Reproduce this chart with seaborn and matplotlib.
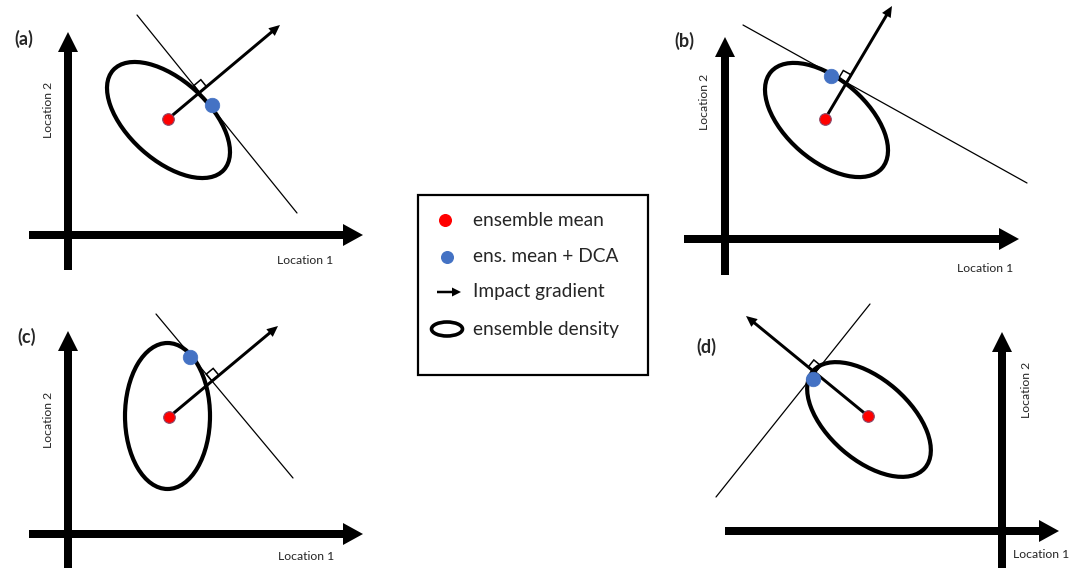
import numpy as np
import pandas as pd
import matplotlib
matplotlib.use("Agg")
import matplotlib.pyplot as plt
from matplotlib.patches import Ellipse, FancyArrow, Rectangle, Polygon
import seaborn as sns

# ---------------- data (pixel-space schematic geometry) ----------------
panel_labels = ["(a)", "(b)", "(c)", "(d)"]
label_x = [24, 684, 27, 706]
label_y = [39, 41, 337, 347]

# axes cross (origin, extents)
axis_x = [68, 725, 68, 1002]          # x position of vertical axis
axis_y = [235, 239, 534, 531]         # y position of horizontal axis
haxis_start = [29, 684, 29, 725]
haxis_end = [363, 1019, 363, 1059]
vaxis_bottom = [270, 275, 568, 568]
vaxis_top = [32, 37, 331, 332]
loc1_x = [305, 985, 306, 1041]
loc1_y = [260, 268, 557, 554]
loc2_x = [48, 705, 48, 1027]
loc2_y = [110, 102, 420, 390]

# ensemble density ellipses
ell_cx = [168.5, 826.5, 167.5, 869.0]
ell_cy = [120.0, 120.0, 416.0, 419.5]
ell_w = [149, 147, 85, 148]
ell_h = [80, 81, 146, 81]
ell_angle = [42, 41, 0, 41]

# ensemble mean (red) and ens. mean + DCA (blue)
mean_x = [168, 825, 169, 868]
mean_y = [119, 119, 417, 416]
dca_x = [212, 831, 190, 813]
dca_y = [105, 76, 357, 379]

# impact gradient arrow tips
grad_x = [280, 892, 278, 746]
grad_y = [25, 6, 326, 316]

# tangent lines
tan_x0 = [137, 743, 156, 870]
tan_y0 = [15, 25, 314, 304]
tan_x1 = [297, 1027, 293, 716]
tan_y1 = [213, 183, 478, 497]

legend_labels = ["ensemble mean", "ens. mean + DCA", "Impact gradient", "ensemble density"]
legend_rows = [220, 257, 292, 329]

# ---------------- figure ----------------
sns.set_style("white")
plt.rcParams["font.family"] = ["Lato", "DejaVu Sans"]

W, H = 1082, 570
fig = plt.figure(figsize=(W / 100, H / 100), dpi=100)
ax = fig.add_axes([0, 0, 1, 1])

RED = "#ff0000"
BLUE = "#4472c4"

for i in range(4):
    # axes arrows
    ax.add_patch(FancyArrow(haxis_start[i], axis_y[i], haxis_end[i] - haxis_start[i], 0,
                            width=8, head_width=22, head_length=20,
                            length_includes_head=True, color="black", lw=0))
    ax.add_patch(FancyArrow(axis_x[i], vaxis_bottom[i], 0, vaxis_top[i] - vaxis_bottom[i],
                            width=8, head_width=20, head_length=20,
                            length_includes_head=True, color="black", lw=0))
    ax.text(loc1_x[i], loc1_y[i], "Location 1", ha="center", va="center", fontsize=8.8)
    ax.text(loc2_x[i], loc2_y[i], "Location 2", ha="center", va="center",
            fontsize=8.8, rotation=90)
    ax.text(label_x[i], label_y[i], panel_labels[i], ha="center", va="center",
            fontsize=13, fontweight="bold")

    # ellipse
    ax.add_patch(Ellipse((ell_cx[i], ell_cy[i]), ell_w[i], ell_h[i], angle=ell_angle[i],
                         fill=False, ec="black", lw=3.0, zorder=3))
    # tangent line
    ax.plot([tan_x0[i], tan_x1[i]], [tan_y0[i], tan_y1[i]], color="black", lw=0.9, zorder=3)

    # impact gradient arrow
    ax.add_patch(FancyArrow(mean_x[i], mean_y[i], grad_x[i] - mean_x[i], grad_y[i] - mean_y[i],
                            width=3, head_width=10, head_length=11,
                            length_includes_head=True, color="black", lw=0, zorder=4))

    # right-angle marker at intersection of arrow and tangent line
    p0 = np.array([mean_x[i], mean_y[i]], float)
    d1 = np.array([grad_x[i] - mean_x[i], grad_y[i] - mean_y[i]], float)
    q0 = np.array([tan_x0[i], tan_y0[i]], float)
    d2 = np.array([tan_x1[i] - tan_x0[i], tan_y1[i] - tan_y0[i]], float)
    t, s = np.linalg.solve(np.column_stack([d1, -d2]), q0 - p0)
    P = p0 + t * d1
    u = d1 / np.linalg.norm(d1)
    v = -d2 / np.linalg.norm(d2)
    sq = 9
    ax.add_patch(Polygon([P, P + sq * u, P + sq * u + sq * v, P + sq * v], closed=True,
                         fill=False, ec="black", lw=1.1, zorder=4))

# dots via seaborn
pts = pd.DataFrame({
    "x": mean_x + dca_x,
    "y": mean_y + dca_y,
    "kind": ["ensemble mean"] * 4 + ["ens. mean + DCA"] * 4,
})
sns.scatterplot(data=pts[pts.kind == "ensemble mean"], x="x", y="y", color=RED, s=70,
                edgecolor="#8a4a6a", linewidth=0.8, ax=ax, zorder=6, legend=False)
sns.scatterplot(data=pts[pts.kind == "ens. mean + DCA"], x="x", y="y", color=BLUE, s=110,
                edgecolor=BLUE, linewidth=0.5, ax=ax, zorder=6, legend=False)

# legend box
ax.add_patch(Rectangle((418, 195), 230, 180, fill=False, ec="black", lw=1.6, zorder=5))
leg_sym_x = 447
ax.scatter([leg_sym_x - 2], [legend_rows[0]], s=70, color=RED, zorder=6)
ax.scatter([leg_sym_x], [legend_rows[1]], s=70, color=BLUE, zorder=6)
ax.add_patch(FancyArrow(437, legend_rows[2], 24, 0, width=2.5, head_width=9, head_length=9,
                        length_includes_head=True, color="black", lw=0, zorder=6))
ax.add_patch(Ellipse((447, legend_rows[3]), 31, 14, fill=False, ec="black", lw=2.6, zorder=6))
for lab, yy in zip(legend_labels, legend_rows):
    ax.text(473, yy, lab, ha="left", va="center", fontsize=13.8)

ax.set_xlim(0, W)
ax.set_ylim(H, 0)
ax.axis("off")

fig.savefig("out.png", dpi=100)
